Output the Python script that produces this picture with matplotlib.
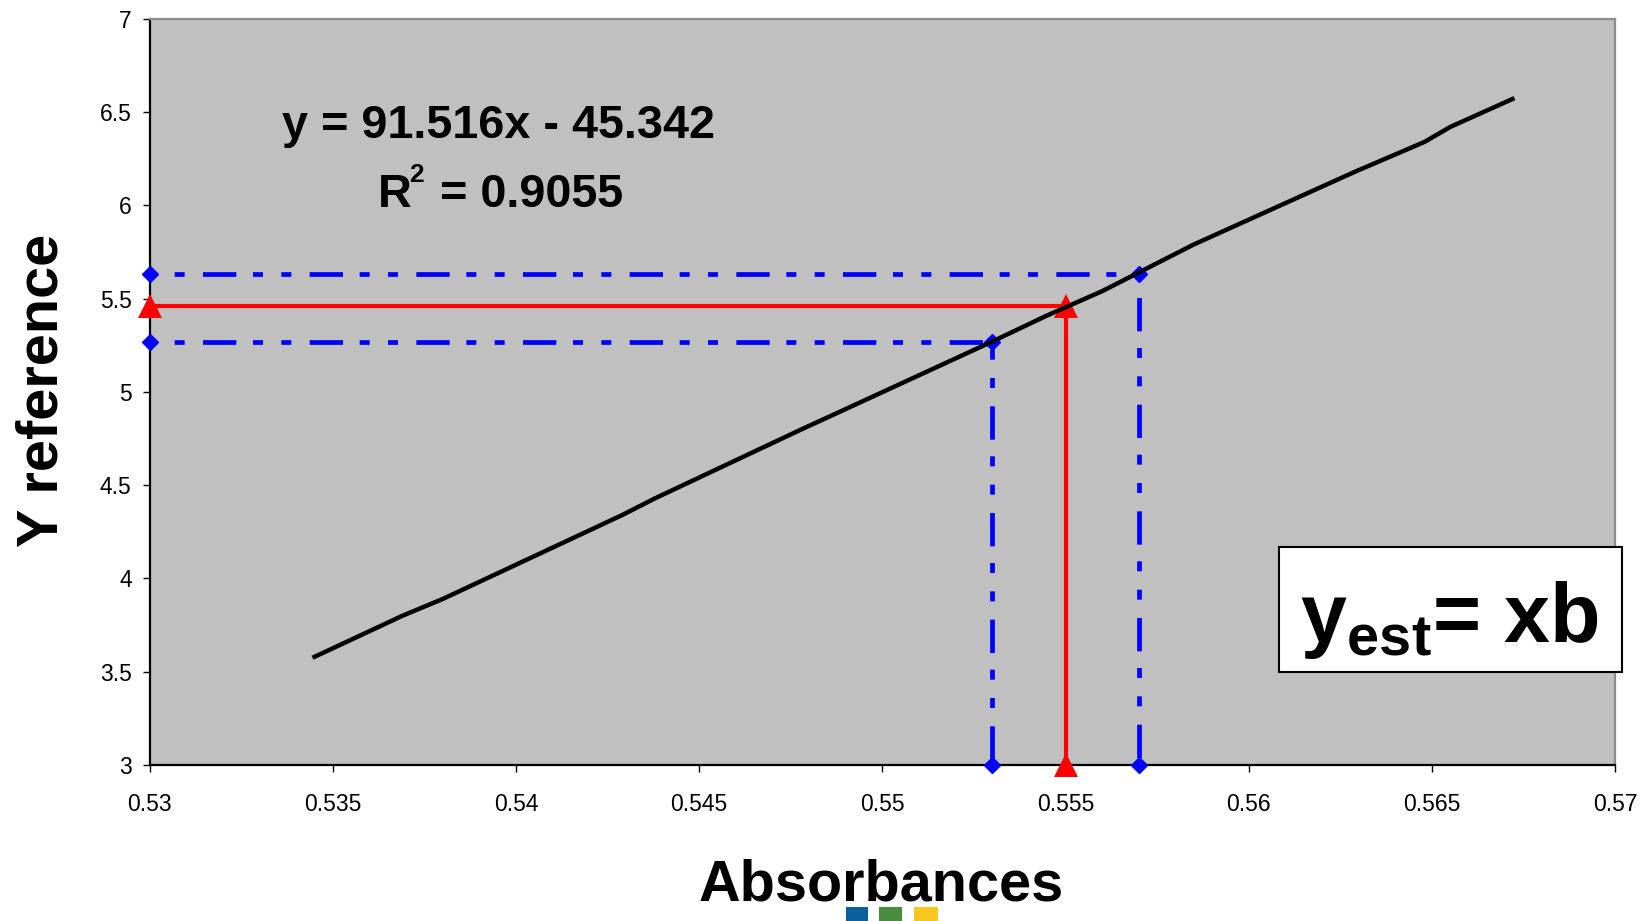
import matplotlib
matplotlib.use("Agg")
import matplotlib.pyplot as plt
from matplotlib.patches import Rectangle
from matplotlib.ticker import FormatStrFormatter

# Data
absorbance = [0.5345, 0.5369, 0.5380, 0.5429, 0.5438, 0.5478, 0.5488, 0.5530,
              0.5545, 0.5560, 0.5585, 0.5629, 0.5648, 0.5655, 0.5672]
y_fit = [3.58, 3.80, 3.89, 4.34, 4.43, 4.80, 4.89, 5.27,
         5.41, 5.54, 5.79, 6.18, 6.34, 6.42, 6.57]

upper_x = [0.53, 0.557, 0.557]
upper_y = [5.63, 5.63, 3.0]
lower_x = [0.53, 0.553, 0.553]
lower_y = [5.27, 5.27, 3.0]
sample_x = [0.53, 0.555, 0.555]
sample_y = [5.46, 5.46, 3.0]

x_ticks = [0.53, 0.535, 0.54, 0.545, 0.55, 0.555, 0.56, 0.565, 0.57]
y_ticks = [3, 3.5, 4, 4.5, 5, 5.5, 6, 6.5, 7]

equation = "y = 91.516x - 45.342"
r_squared = "= 0.9055"

W, H = 1641, 921
plt.rcParams['font.family'] = ['Liberation Sans', 'DejaVu Sans']
plt.rcParams['mathtext.fontset'] = 'custom'
plt.rcParams['mathtext.bf'] = 'Liberation Sans:bold'
plt.rcParams['mathtext.rm'] = 'Liberation Sans:bold'
plt.rcParams['lines.scale_dashes'] = False


def px(x, y):
    # figure pixels (from top-left) -> figure fraction
    return x / W, 1 - y / H


fig = plt.figure(figsize=(W / 100, H / 100), dpi=100)
ax = fig.add_axes([149.7 / W, 1 - 765 / H, (1615 - 149.7) / W, (765 - 18.8) / H])
ax.set_facecolor("#c0c0c0")

dash = (39, (24, 12, 7.2, 13.2, 7.2, 13.2))
ax.plot(upper_x, upper_y, color="#0000ff", lw=3.4, linestyle=dash,
        marker="D", markersize=8.5, clip_on=False, zorder=3)
ax.plot(lower_x, lower_y, color="#0000ff", lw=3.4, linestyle=dash,
        marker="D", markersize=8.5, clip_on=False, zorder=3)
ax.plot(sample_x, sample_y, color="#ff0000", lw=3.0, marker="^",
        markersize=17, markeredgewidth=0, clip_on=False, zorder=4)
ax.plot(absorbance, y_fit, color="black", lw=3.2, zorder=5)

ax.set_xlim(0.53, 0.57)
ax.set_ylim(3, 7)
ax.set_xticks(x_ticks)
ax.set_yticks(y_ticks)
ax.xaxis.set_major_formatter(FormatStrFormatter("%g"))
ax.yaxis.set_major_formatter(FormatStrFormatter("%g"))
ax.tick_params(direction="out", length=5, width=1, labelsize=16.5, colors="black")
ax.tick_params(axis="x", pad=15)
ax.tick_params(axis="y", pad=8)

for side in ("left", "bottom"):
    ax.spines[side].set_color("black")
    ax.spines[side].set_linewidth(1.6)
for side in ("top", "right"):
    ax.spines[side].set_color("#8c8c8c")
    ax.spines[side].set_linewidth(1.6)

# regression text
fig.text(*px(498, 137.7), equation, fontsize=33.7, fontweight="bold",
         ha="center", va="baseline")
fig.text(*px(378, 206.7), "R", fontsize=33.7, fontweight="bold",
         ha="left", va="baseline")
fig.text(*px(409, 182), "2", fontsize=19, fontweight="bold",
         ha="left", va="baseline")
fig.text(*px(440, 206.7), r_squared, fontsize=33.7, fontweight="bold",
         ha="left", va="baseline")

# axis titles
fig.text(*px(881, 900), "Absorbances", fontsize=41.5, fontweight="bold",
         ha="center", va="baseline")
fig.text(*px(43, 390), "Y reference", fontsize=41.5, fontweight="bold",
         rotation=90, ha="center", va="center")

# boxed formula
x0, y0 = px(1279, 671.7)
fig.patches.append(Rectangle((x0, y0), (1621.7 - 1279) / W, (671.7 - 547) / H,
                             transform=fig.transFigure, facecolor="white",
                             edgecolor="black", lw=1.5, zorder=10))
fig.text(*px(1300, 641.7), r"$\mathbf{y_{est}}$= xb", fontsize=59.5,
         fontweight="bold", ha="left", va="baseline", zorder=11)

# coloured squares under the x title
for left, width, color in [(846, 22, "#0b5f9b"), (879, 23, "#4a8c3f"), (914, 24, "#f7c71f")]:
    fx, fy = px(left, 921)
    fig.patches.append(Rectangle((fx, fy), width / W, 14 / H,
                                 transform=fig.transFigure, facecolor=color,
                                 edgecolor="none"))

fig.savefig("out.png", dpi=100, facecolor="white")
